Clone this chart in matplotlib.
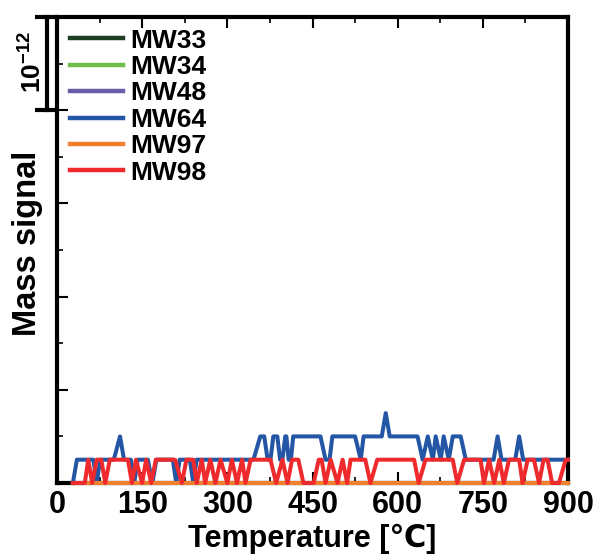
import matplotlib
matplotlib.use("Agg")
import matplotlib.pyplot as plt
import matplotlib.transforms as mtransforms
from matplotlib.ticker import MultipleLocator

plt.rcParams['font.family'] = ['Liberation Sans', 'DejaVu Sans']
plt.rcParams['font.weight'] = 'bold'
plt.rcParams['mathtext.fontset'] = 'custom'
plt.rcParams['mathtext.rm'] = 'Liberation Sans'
plt.rcParams['mathtext.bf'] = 'Liberation Sans:bold'

# signal in units of 1e-12, temperature in degC
t_flat = [28, 900]
mw33 = [0.0, 0.0]
mw34 = [0.0, 0.0]
mw48 = [0.0, 0.0]
mw97 = [0.0, 0.0]

t_mw64 = [28, 35, 64, 70, 76, 100, 111, 118, 130, 136, 142, 160, 168, 175, 204, 210,
          216, 234, 240, 246, 346, 358, 365, 371, 376, 381, 388, 393, 397, 402, 404,
          408, 412, 416, 464, 473, 480, 485, 525, 535, 540, 572, 579, 586, 635, 644,
          653, 662, 667, 676, 681, 690, 697, 711, 720, 769, 776, 783, 807, 814, 821, 900]
mw64 = [0, 0.25, 0.25, 0, 0.25, 0.25, 0.5, 0.25, 0.25, 0, 0.25, 0.25, 0, 0.25, 0.25, 0,
        0.25, 0.25, 0, 0.25, 0.25, 0.5, 0.5, 0.25, 0.25, 0.5, 0.5, 0.25, 0.25, 0.5, 0.5,
        0.25, 0.25, 0.5, 0.5, 0.25, 0.25, 0.5, 0.5, 0.25, 0.5, 0.5, 0.75, 0.5, 0.5, 0.25,
        0.5, 0.25, 0.5, 0.25, 0.5, 0.25, 0.5, 0.5, 0.25, 0.25, 0.5, 0.25, 0.25, 0.5, 0.25, 0.25]

t_mw98 = [28, 49, 55, 62, 70, 78, 85, 93, 125, 132, 139, 150, 157, 166, 174, 208, 220,
          228, 240, 246, 255, 261, 270, 279, 288, 300, 308, 317, 326, 332, 341, 376, 386,
          397, 406, 414, 425, 434, 452, 461, 466, 473, 482, 494, 503, 511, 517, 543, 552,
          564, 629, 637, 649, 697, 705, 717, 746, 752, 761, 770, 779, 787, 796, 814, 820,
          829, 840, 849, 857, 864, 872, 884, 896, 900]
mw98 = [0, 0, 0.25, 0, 0.25, 0.25, 0, 0.25, 0.25, 0, 0.25, 0, 0.25, 0, 0.25, 0.25, 0,
        0.25, 0.25, 0, 0.25, 0, 0.25, 0, 0.25, 0, 0.25, 0, 0.25, 0, 0.25, 0.25, 0,
        0.25, 0, 0.25, 0.25, 0, 0, 0.25, 0.25, 0, 0.25, 0, 0.25, 0, 0.25, 0.25, 0,
        0.25, 0.25, 0, 0.25, 0.25, 0, 0.25, 0.25, 0, 0.25, 0, 0.25, 0, 0.25, 0.25, 0,
        0.25, 0.25, 0, 0.25, 0.25, 0, 0, 0.25, 0.25]

x_ticks = [0, 150, 300, 450, 600, 750, 900]

fig = plt.figure(figsize=(5.95, 5.54), dpi=100)
ax = fig.add_axes([57 / 595, 1 - 483 / 554, 511 / 595, 466 / 554])

lw = 2.9
ax.plot(t_flat, mw33, color='#1c3d22', lw=lw, label='MW33', clip_on=False, zorder=3)
ax.plot(t_flat, mw34, color='#6cc04a', lw=lw, label='MW34', clip_on=False, zorder=3)
ax.plot(t_flat, mw48, color='#6a5ca8', lw=lw, label='MW48', clip_on=False, zorder=3)
ax.plot(t_mw64, mw64, color='#2456a6', lw=lw, label='MW64', clip_on=False, zorder=3)
ax.plot(t_flat, mw97, color='#f07f2e', lw=lw, label='MW97', clip_on=False, zorder=3)
ax.plot(t_mw98, mw98, color='#ee2a2d', lw=lw, label='MW98', clip_on=False, zorder=3)

ax.set_xlim(0, 900)
ax.set_ylim(0, 5)
ax.set_xticks(x_ticks)
ax.set_xticklabels([str(v) for v in x_ticks])
ax.xaxis.set_minor_locator(MultipleLocator(75))
ax.yaxis.set_major_locator(MultipleLocator(1))
ax.yaxis.set_minor_locator(MultipleLocator(0.5))
ax.set_yticklabels([])

ax.tick_params(which='both', direction='in', top=True, right=False, labelsize=22, pad=5)
ax.tick_params(which='major', length=8, width=1.5)
ax.tick_params(which='minor', length=4, width=1.2)

for sp in ax.spines.values():
    sp.set_linewidth(3)

ax.set_xlabel('Temperature [℃]', fontsize=22, fontweight='bold', labelpad=3)
ax.set_ylabel('Mass signal', fontsize=23.5, fontweight='bold')
ax.yaxis.set_label_coords(-0.057, 0.515)
ax.yaxis.label.set_va('center')

# scale bar for 1e-12 in the top left corner
trans = mtransforms.blended_transform_factory(ax.transAxes, ax.transData)
ax.plot([-0.0196, -0.0196], [4, 5], color='black', lw=3, transform=trans, clip_on=False)
ax.plot([-0.043, 0], [5, 5], color='black', lw=3, transform=trans, clip_on=False,
        solid_capstyle='butt')
ax.plot([-0.043, 0], [4, 4], color='black', lw=3, transform=trans, clip_on=False,
        solid_capstyle='butt')
ax.text(-0.047, 4.52, r'$\mathbf{10^{-12}}$', fontsize=19, rotation=90,
        ha='center', va='center', transform=trans)

leg = ax.legend(loc='upper left', bbox_to_anchor=(0.025, 0.975), frameon=False,
                fontsize=19, handlelength=2.0, handletextpad=0.3, labelspacing=0.09,
                borderpad=0, borderaxespad=0)
for line in leg.get_lines():
    line.set_linewidth(3.2)

fig.savefig('out.png', dpi=100)
